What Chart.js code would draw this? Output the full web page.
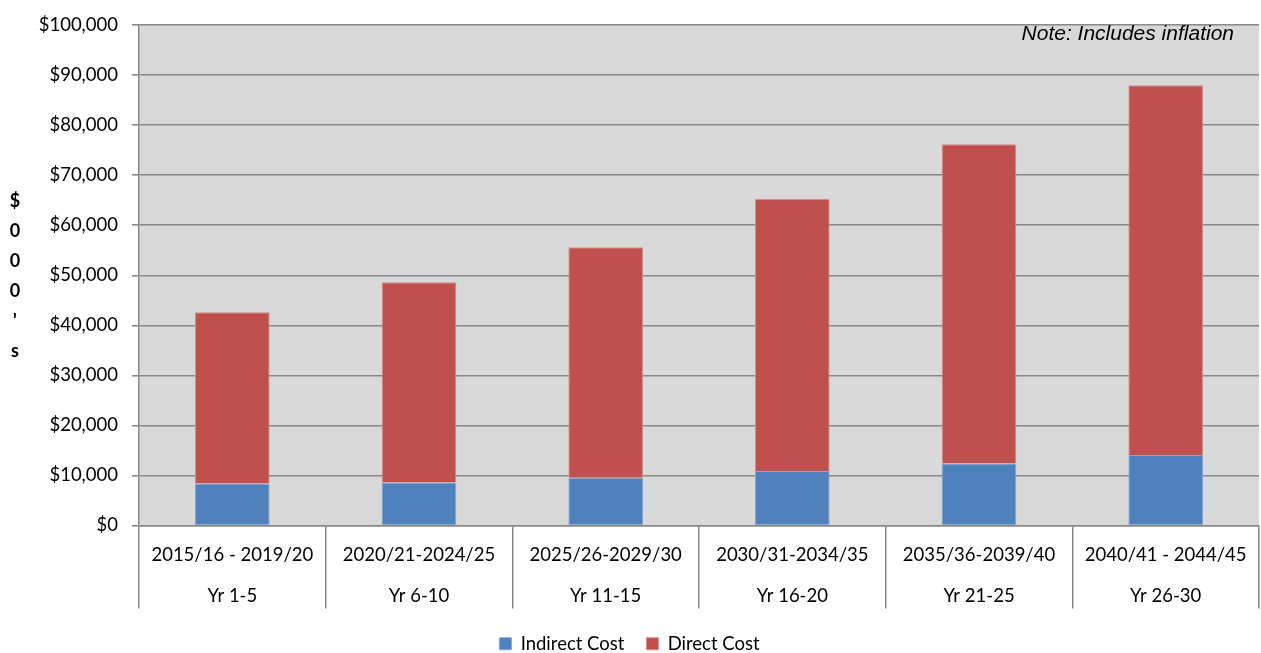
<!DOCTYPE html>
<html>
<head>
<meta charset="utf-8">
<script src="https://cdn.jsdelivr.net/npm/chart.js@4/dist/chart.umd.min.js"></script>
<style>
  html, body { margin: 0; padding: 0; background: #ffffff; }
  #wrap { width: 1261px; height: 653px; }
</style>
</head>
<body>
<div id="wrap"><canvas id="costChart" width="1261" height="653"></canvas></div>
<script>
// Five-year periods and their year ranges (two-row category labels)
const periods = ['2015/16 - 2019/20', '2020/21-2024/25', '2025/26-2029/30', '2030/31-2034/35', '2035/36-2039/40', '2040/41 - 2044/45'];
const yearRanges = ['Yr 1-5', 'Yr 6-10', 'Yr 11-15', 'Yr 16-20', 'Yr 21-25', 'Yr 26-30'];

// Costs in $000's
const indirectCost = [8400, 8600, 9550, 10900, 12400, 14100];
const directCost = [34200, 40000, 46050, 54400, 63800, 73900];

// Value axis range
const yMin = 0;
const yMax = 100000;
const yStep = 10000;

const axisTitleChars = ['$', '0', '0', '0', "'", 's'];
const noteText = 'Note: Includes inflation';

const labelFont = 'Lato';

// Grey plotting area
const plotBackground = {
  id: 'plotBackground',
  beforeDraw(chart) {
    const { ctx, chartArea: a } = chart;
    ctx.save();
    ctx.fillStyle = '#d9d9d9';
    ctx.fillRect(a.left, a.top, a.right - a.left, a.bottom - a.top);
    ctx.restore();
  }
};

// Note in the top right corner and the stacked vertical unit title
const annotations = {
  id: 'annotations',
  afterDraw(chart) {
    const { ctx, chartArea: a } = chart;
    ctx.save();
    ctx.fillStyle = '#000000';
    ctx.font = 'italic 21px "Liberation Sans", Arial, sans-serif';
    ctx.textAlign = 'right';
    ctx.textBaseline = 'middle';
    ctx.fillText(noteText, a.right - 25, 34);

    ctx.font = 'bold 18px ' + labelFont + ', sans-serif';
    ctx.textAlign = 'center';
    axisTitleChars.forEach((ch, i) => {
      ctx.fillText(ch, 15, 201 + i * 30);
    });
    ctx.restore();
  }
};

new Chart(document.getElementById('costChart'), {
  type: 'bar',
  data: {
    labels: periods.map((p, i) => [p, yearRanges[i]]),
    datasets: [
      {
        label: 'Indirect Cost',
        data: indirectCost,
        backgroundColor: '#4f81bd',
        borderColor: '#86a7d3',
        borderWidth: 1,
        barPercentage: 0.4,
        categoryPercentage: 1.0
      },
      {
        label: 'Direct Cost',
        data: directCost,
        backgroundColor: '#c0504d',
        borderColor: '#d48e8c',
        borderWidth: 1,
        barPercentage: 0.4,
        categoryPercentage: 1.0
      }
    ]
  },
  options: {
    responsive: false,
    animation: false,
    layout: { padding: { top: 23, right: 2, left: 0, bottom: -10 } },
    plugins: {
      legend: {
        position: 'bottom',
        labels: {
          color: '#000000',
          font: { family: labelFont, size: 18.5 },
          boxWidth: 12,
          boxHeight: 12,
          padding: 22
        }
      },
      tooltip: { enabled: false }
    },
    scales: {
      x: {
        stacked: true,
        grid: {
          offset: true,
          drawOnChartArea: false,
          drawTicks: true,
          tickLength: 83,
          color: '#888888',
          lineWidth: 1.5
        },
        border: { display: true, color: '#888888', width: 1.5 },
        ticks: {
          color: '#000000',
          font: { family: labelFont, size: 18.5, lineHeight: '41px' },
          padding: -74,
          maxRotation: 0,
          autoSkip: false
        },
        afterFit(scale) { scale.height = 87; }
      },
      y: {
        stacked: true,
        min: yMin,
        max: yMax,
        ticks: {
          stepSize: yStep,
          color: '#000000',
          font: { family: labelFont, size: 18.5 },
          padding: 14,
          callback: (v) => '$' + Number(v).toLocaleString('en-US')
        },
        grid: {
          color: '#888888',
          lineWidth: 1.6,
          tickLength: 7
        },
        border: { display: true, color: '#888888', width: 1.5 },
        afterFit(scale) { scale.width = 139; }
      }
    }
  },
  plugins: [plotBackground, annotations]
});
</script>
</body>
</html>
